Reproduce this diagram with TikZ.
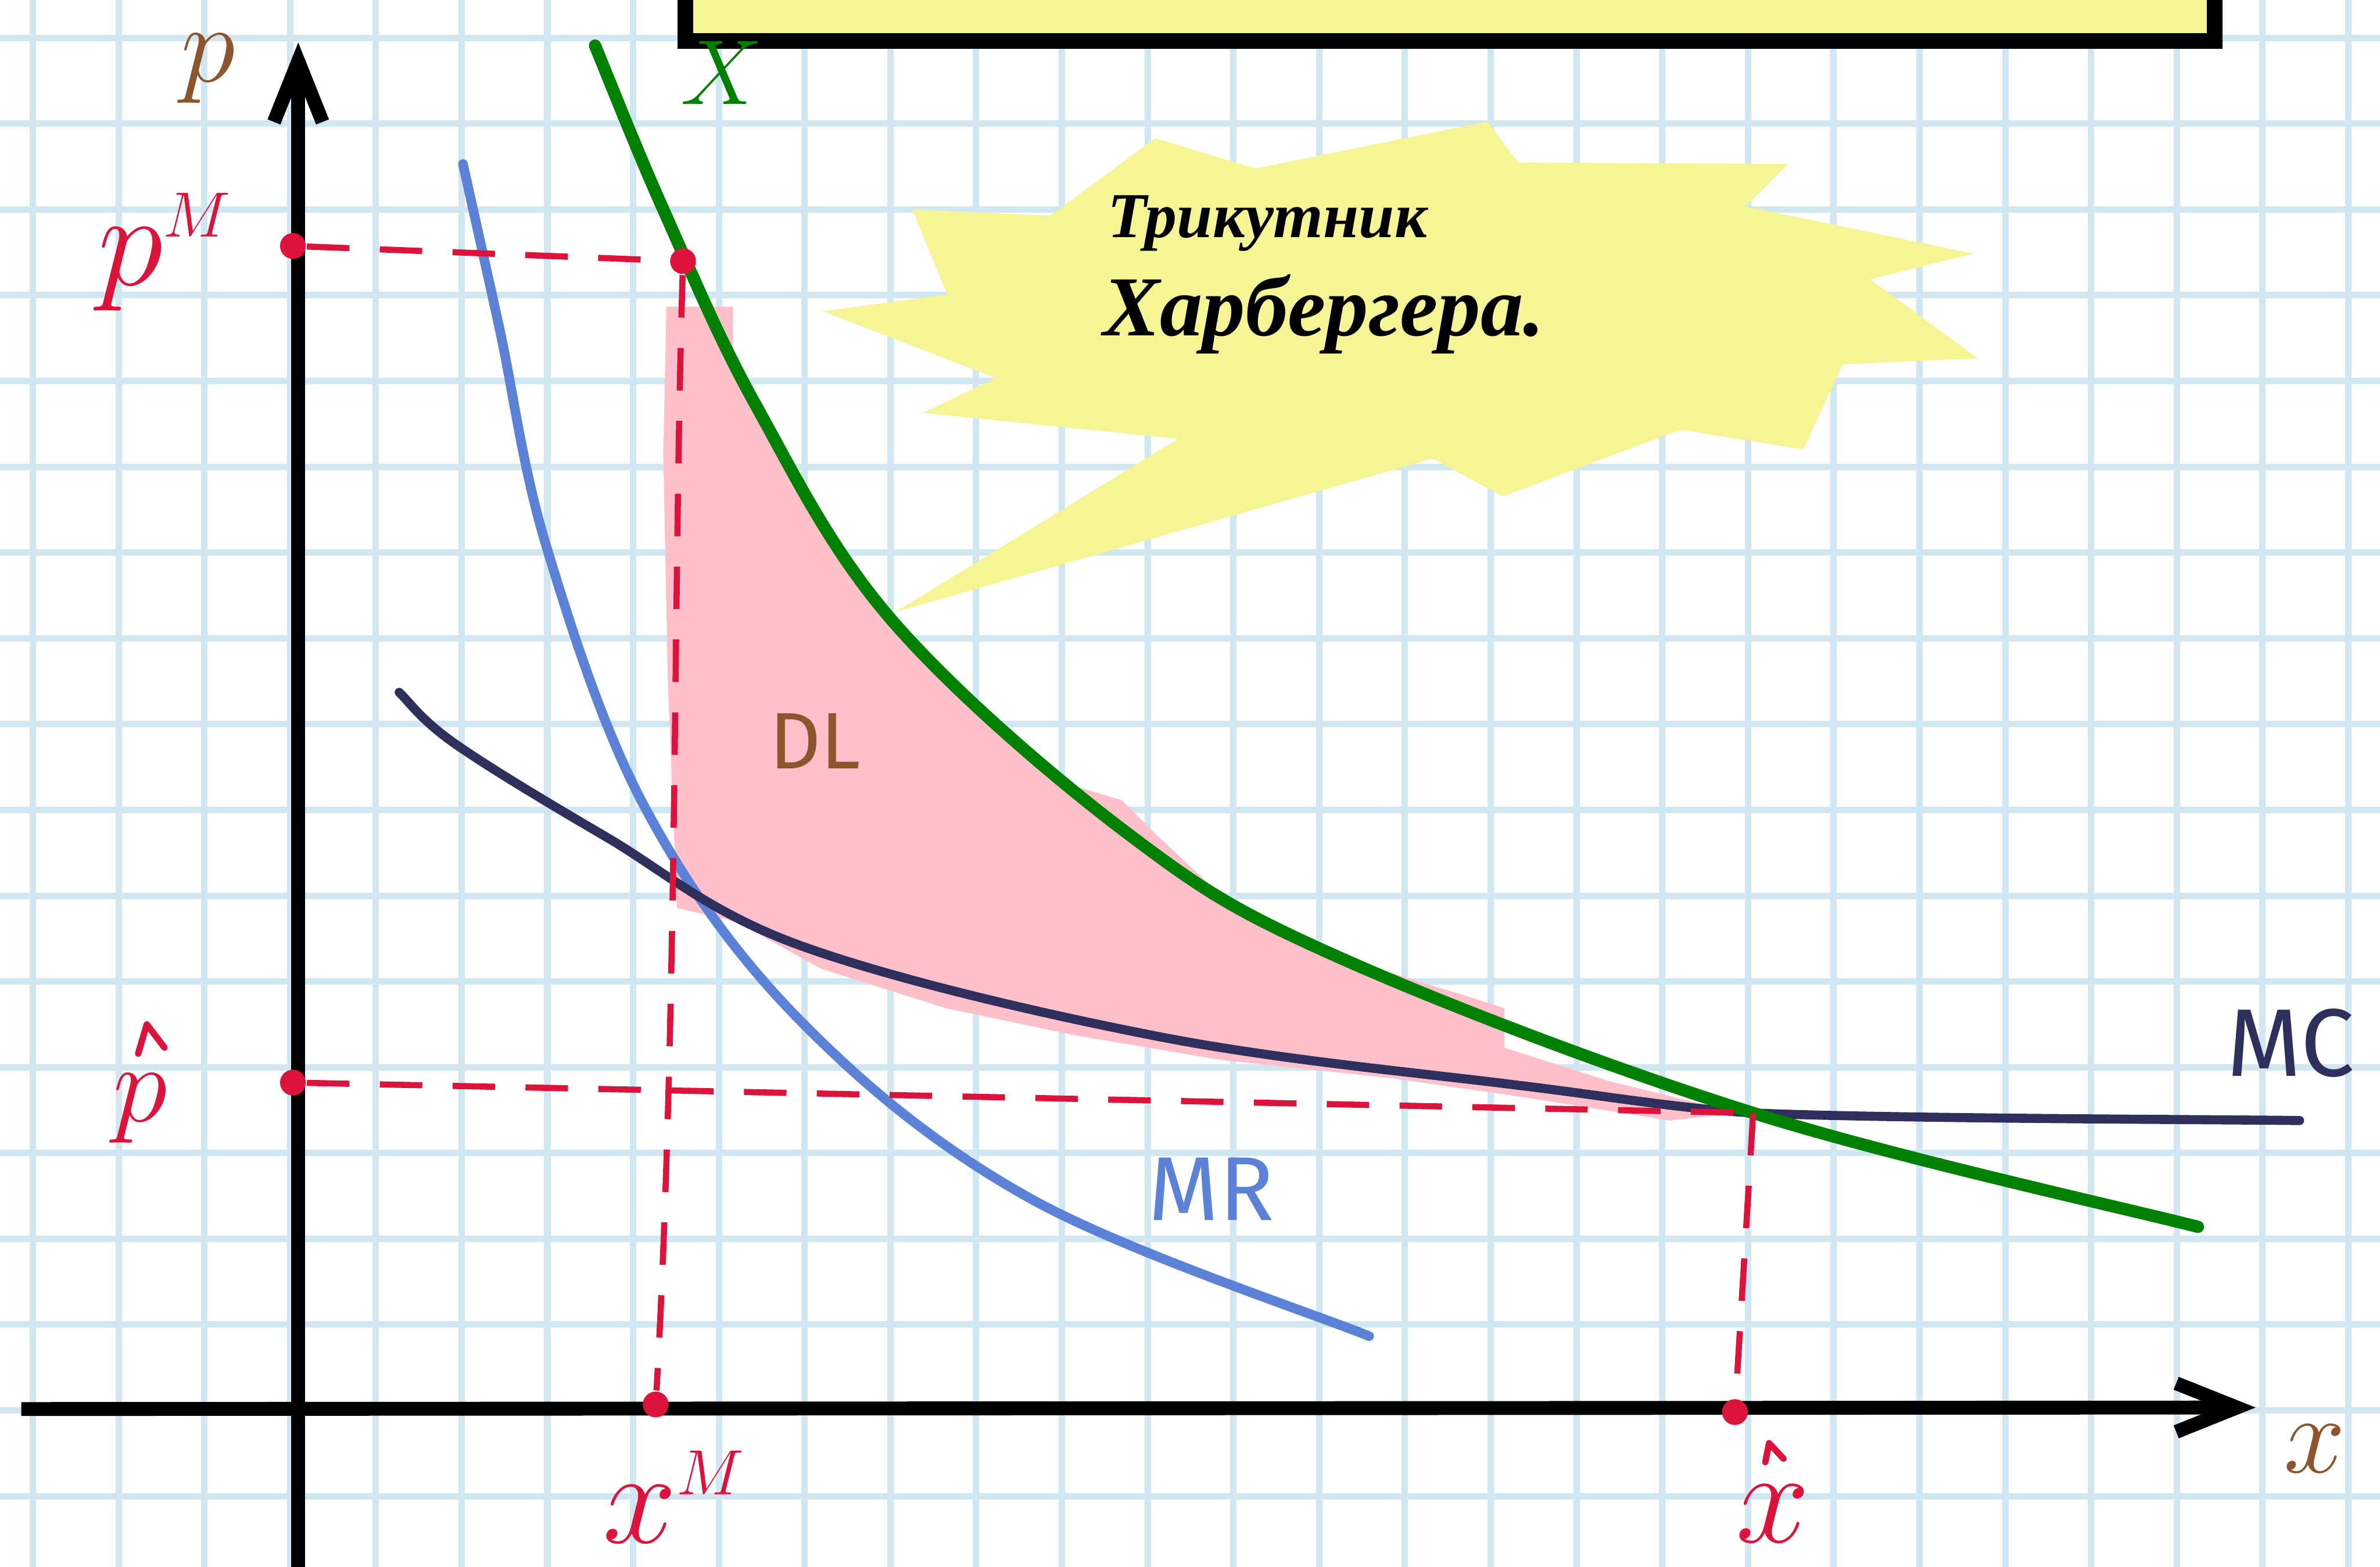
\documentclass[tikz,border=0pt]{standalone}
\usepackage{fontspec}
\setmainfont{Fira Sans}
\newfontfamily\notefont{Liberation Serif}
\usetikzlibrary{arrows.meta}

\definecolor{gridblue}{RGB}{208,230,240}
\definecolor{noteyellow}{RGB}{246,245,150}
\definecolor{dlpink}{RGB}{255,192,203}
\definecolor{demgreen}{RGB}{0,128,0}
\definecolor{mrblue}{RGB}{91,130,214}
\definecolor{mcnavy}{RGB}{46,47,90}
\definecolor{markred}{RGB}{220,20,60}
\definecolor{labelbrown}{RGB}{140,85,45}

\begin{document}
\begin{tikzpicture}[
  gridline/.style={gridblue, line width=1.2pt},
  axis/.style={line width=2.6pt, -{Straight Barb[length=0.4cm, width=0.32cm]}},
  demand/.style={demgreen, line width=2.3pt, line cap=round},
  mrcurve/.style={mrblue, line width=1.8pt, line cap=round},
  mccurve/.style={mcnavy, line width=1.7pt, line cap=round},
  dashline/.style={markred, line width=1.15pt, dash pattern=on 0.28cm off 0.2cm},
  reddot/.style={circle, fill=markred, inner sep=0pt, minimum size=0.17cm},
  caret/.style={markred, line width=1.2pt, line cap=round, line join=round},
  notetext/.style={font=\notefont\bfseries\itshape, inner sep=0pt},
  lbl/.style={inner sep=0pt}
]
\useasboundingbox (-1.965,-1.02) rectangle (13.715,9.30);
\clip (-1.965,-1.02) rectangle (13.715,9.30);

% squared paper
\foreach \i in {0,...,27}
  \draw[gridline] ({-1.749+0.565*\i},-1.2) -- ({-1.749+0.565*\i},9.5);
\foreach \j in {0,...,18}
  \draw[gridline] (-2.1,{9.051-0.565*\j}) -- (13.9,{9.051-0.565*\j});

% note
\fill[noteyellow] (7.835,8.50) -- (8.035,8.23) -- (9.815,8.22) -- (9.535,7.94)
  -- (11.035,7.63) -- (10.355,7.46) -- (11.065,6.94) -- (10.175,6.90)
  -- (9.915,6.34) -- (9.105,6.47) -- (7.935,6.03) -- (7.475,6.28)
  -- (3.935,5.27) -- (5.795,6.41) -- (4.115,6.58) -- (4.595,6.81)
  -- (3.455,7.25) -- (4.275,7.36) -- (4.045,7.92) -- (4.955,7.88)
  -- (5.645,8.39) -- (6.305,8.19) -- cycle;
\node[notetext, anchor=base west, font=\notefont\bfseries\itshape\fontsize{12}{12}\selectfont] (tri) at (5.325,7.735) {Трикутник};
\node[notetext, anchor=base west, font=\notefont\bfseries\itshape\fontsize{16}{16}\selectfont] (harb) at (5.295,7.09) {Харбергера.};

\draw[line width=3pt, fill=noteyellow] (2.55,9.03) rectangle (12.625,9.9);

% deadweight loss
\fill[dlpink] (2.425,7.28) -- (2.865,7.28) -- (2.865,6.90) -- (3.015,6.63)
  -- (3.405,5.85) -- (3.915,5.21) -- (4.525,4.58) -- (5.125,4.12)
  -- (5.425,4.03) -- (5.635,3.82) -- (6.155,3.33) -- (6.845,3.00)
  -- (7.665,2.75) -- (7.945,2.66) -- (7.945,2.40) -- (8.635,2.18)
  -- (9.485,1.97) -- (9.035,1.92) -- (8.035,2.08) -- (7.195,2.20)
  -- (6.075,2.32) -- (5.125,2.48) -- (4.265,2.66) -- (3.445,2.92)
  -- (2.885,3.23) -- (2.495,3.32) -- (2.435,4.80) -- (2.405,6.30) -- cycle;

% curves
\draw[mrcurve] (1.085,8.22) .. controls (1.125,8.04) and (1.233,7.56) .. (1.325,7.14)
  .. controls (1.417,6.72) and (1.475,6.227) .. (1.635,5.70)
  .. controls (1.795,5.173) and (2.005,4.502) .. (2.285,3.98)
  .. controls (2.565,3.458) and (2.89,3.0) .. (3.315,2.57)
  .. controls (3.74,2.14) and (4.212,1.745) .. (4.835,1.40)
  .. controls (5.458,1.055) and (6.685,0.65) .. (7.055,0.50);

\draw[mccurve] (0.665,4.74) .. controls (0.727,4.683) and (0.808,4.558) .. (1.035,4.40)
  .. controls (1.262,4.242) and (1.645,4.012) .. (2.025,3.79)
  .. controls (2.405,3.568) and (2.705,3.29) .. (3.315,3.07)
  .. controls (3.925,2.85) and (4.895,2.623) .. (5.685,2.47)
  .. controls (6.475,2.317) and (7.405,2.233) .. (8.055,2.15)
  .. controls (8.56,2.09) and (9.08,2.00) .. (9.585,1.97)
  .. controls (10.44,1.932) and (12.585,1.928) .. (13.185,1.92);

\draw[demand] (1.955,9.00) .. controls (2.03,8.82) and (2.228,8.315) .. (2.405,7.92)
  .. controls (2.582,7.525) and (2.763,7.082) .. (3.015,6.63)
  .. controls (3.267,6.178) and (3.507,5.68) .. (3.915,5.21)
  .. controls (4.323,4.74) and (4.977,4.178) .. (5.465,3.81)
  .. controls (5.953,3.442) and (6.158,3.307) .. (6.845,3.00)
  .. controls (7.532,2.693) and (8.64,2.267) .. (9.585,1.97)
  .. controls (10.53,1.673) and (12.027,1.345) .. (12.515,1.22);

% axes
\coordinate (ybot) at (0,-1.2);
\coordinate (ytop) at (0,9.02);
\coordinate (xleft) at (-1.825,0.02);
\coordinate (xright) at (12.895,0.03);
\draw[axis] (ybot) -- (ytop);
\draw[axis] (xleft) -- (xright);

% marked points
\node[reddot] (pmaxis) at (-0.035,7.68) {};
\node[reddot] (pmcurve) at (2.535,7.58) {};
\node[reddot] (phaxis) at (-0.035,2.17) {};
\node[reddot] (xmaxis) at (2.355,0.05) {};
\node[reddot] (xhaxis) at (9.465,0.0) {};
\coordinate (eq) at (9.585,1.97);

\draw[dashline] (pmaxis) -- (pmcurve);
\draw[dashline] (pmcurve) .. controls (2.47,5.5) and (2.5,2.6) .. (xmaxis);
\draw[dashline] (phaxis) -- (eq);
\draw[dashline] (eq) -- (xhaxis);

% labels
\node[lbl, text=labelbrown, font=\fontsize{20}{20}\selectfont] (lblp) at (-0.595,8.85) {$p$};
\node[lbl, text=labelbrown, font=\fontsize{22}{22}\selectfont] (lblx) at (13.285,-0.24) {$x$};
\node[lbl, text=demgreen, font=\fontsize{19}{19}\selectfont] (lblX) at (2.79,8.82) {$X$};
\node[lbl, text=markred, font=\fontsize{23}{23}\selectfont] (lblpm) at (-0.875,7.64) {$p^{\scriptscriptstyle M}$};
\node[lbl, text=markred, font=\fontsize{22}{22}\selectfont] (lblph) at (-1.04,2.00) {$p$};
\draw[caret] (-1.055,2.36) -- (-0.998,2.553) -- (-0.881,2.40);
\node[lbl, text=markred, font=\fontsize{24}{24}\selectfont] (lblxm) at (2.48,-0.56) {$x^{\scriptscriptstyle M}$};
\node[lbl, text=markred, font=\fontsize{24}{24}\selectfont] (lblxh) at (9.715,-0.67) {$x$};
\draw[caret] (9.665,-0.33) -- (9.69,-0.205) -- (9.785,-0.307);
\node[lbl, text=mcnavy, font=\fontsize{18}{18}\selectfont] (lblmc) at (13.125,2.43) {MC};
\node[lbl, text=mrblue, font=\fontsize{17}{17}\selectfont] (lblmr) at (6.015,1.47) {MR};
\node[lbl, text=labelbrown, font=\fontsize{15}{15}\selectfont] (lbldl) at (3.405,4.42) {DL};
\end{tikzpicture}
\end{document}
